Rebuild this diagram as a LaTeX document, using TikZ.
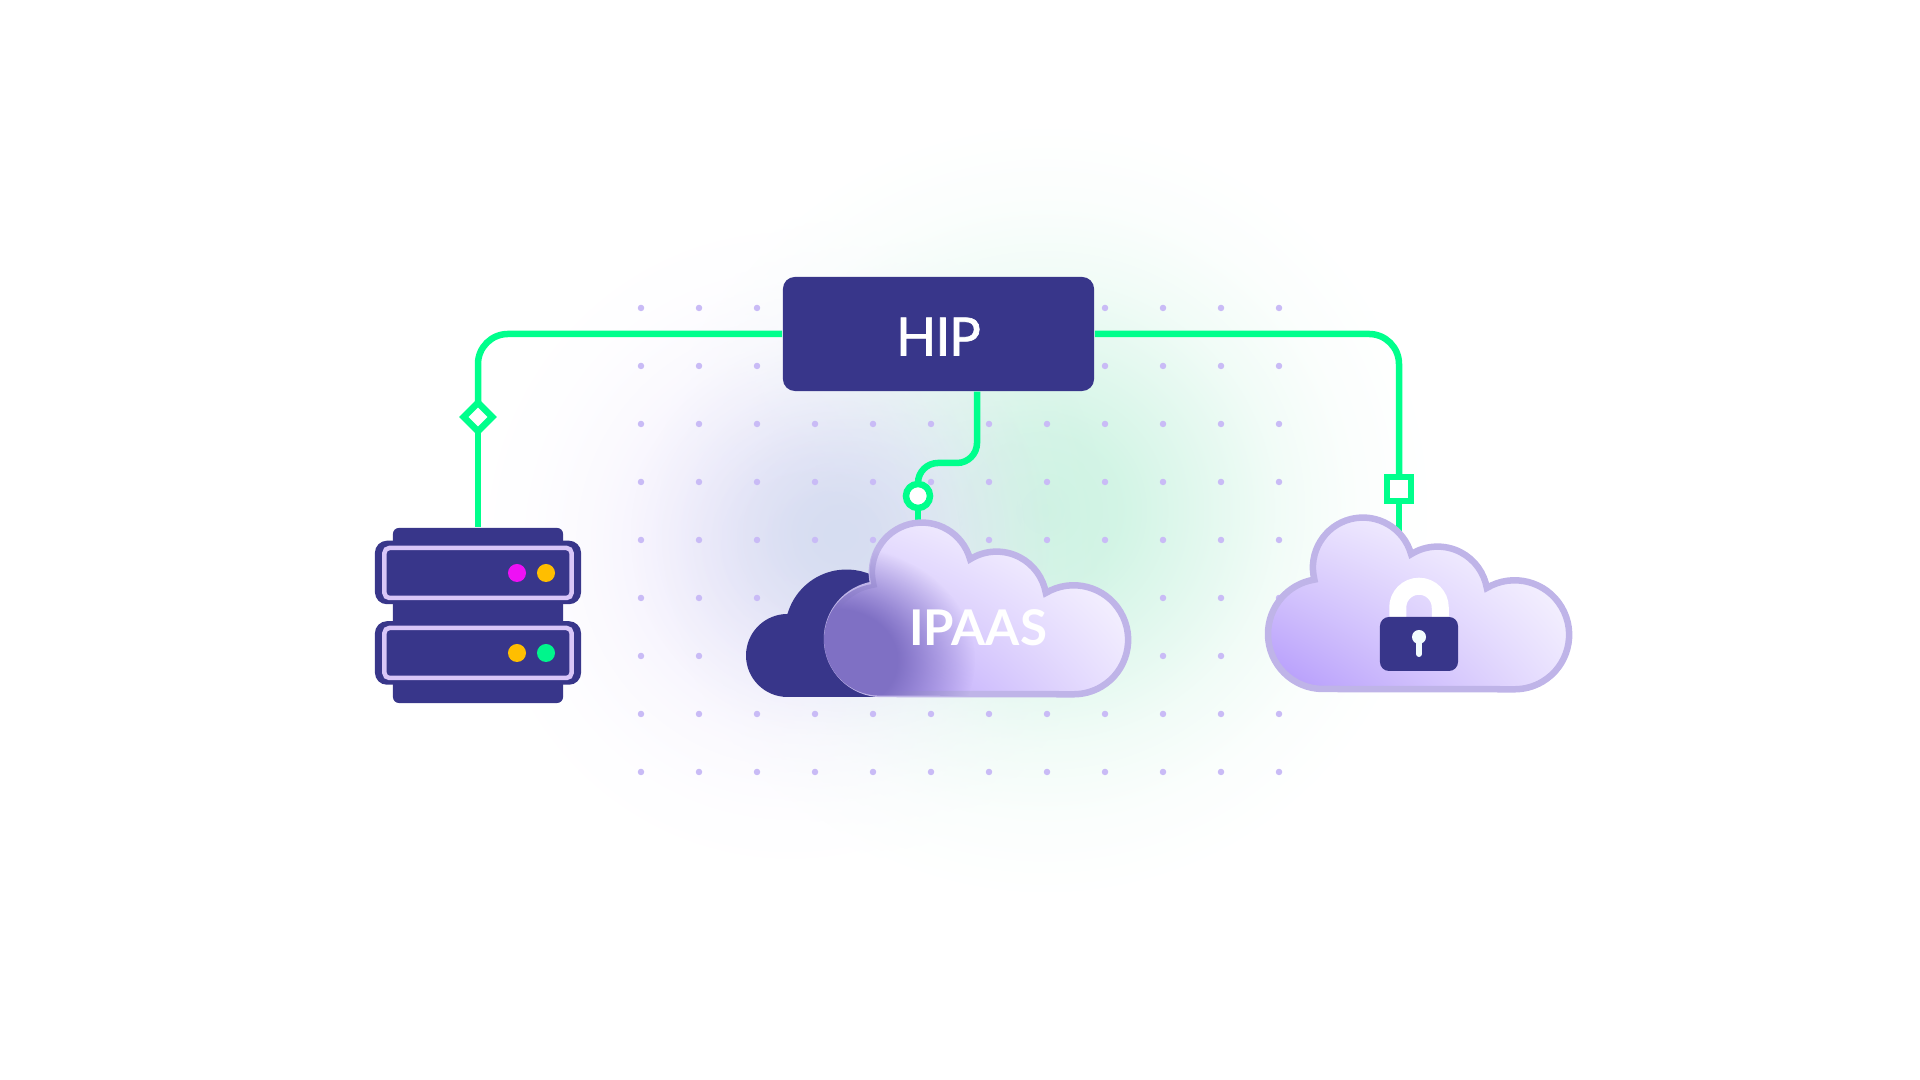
\documentclass[tikz,border=0pt]{standalone}
\usepackage{fontspec}
\setmainfont{Lato}
\newfontfamily\hipfont[FakeBold=1.3,LetterSpace=-2]{Lato}
\usetikzlibrary{positioning,calc,fadings,shadings,shapes.geometric}
\definecolor{navy}{HTML}{38368A}
\definecolor{linkgreen}{HTML}{00FF8C}
\definecolor{dotlilac}{HTML}{C9BBF6}
\definecolor{edgelilac}{HTML}{BFB4E8}
\definecolor{racklilac}{HTML}{D9C6F8}
\definecolor{cloudlow}{HTML}{B297FB}
\definecolor{cloudhaze}{HTML}{7F70C4}
\definecolor{ledpink}{HTML}{EE10F5}
\definecolor{ledamber}{HTML}{FFBE00}
\definecolor{ledgreen}{HTML}{00F58C}
\definecolor{glowgreen}{HTML}{CDF3E2}
\definecolor{glowblue}{HTML}{D6DDF1}
\definecolor{glowlilac}{HTML}{EEE9FC}
\pgfdeclareradialshading{softglowshade}{\pgfpointorigin}{color(0bp)=(white);color(5bp)=(white!88!black);color(10bp)=(white!58!black);color(15bp)=(white!27!black);color(20bp)=(white!8!black);color(25bp)=(black);color(50bp)=(black)}
\pgfdeclarefading{softglow}{\pgfuseshading{softglowshade}}
\pgfdeclareradialshading{softhazeshade}{\pgfpointorigin}{color(0bp)=(white);color(11bp)=(white);color(17bp)=(white!55!black);color(25bp)=(black);color(50bp)=(black)}
\pgfdeclarefading{softhaze}{\pgfuseshading{softhazeshade}}
\newcommand{\cloudoutline}{(882,386) arc[start angle=270,end angle=99,radius=55]
  arc[start angle=194,end angle=15.5,radius=50]
  arc[start angle=122,end angle=10,radius=50]
  arc[start angle=120.7,end angle=-90,radius=54.5] -- cycle}
\begin{document}
\begin{tikzpicture}[
      x=.01cm,y=.01cm,
      hipbox/.style={rectangle,fill=navy,rounded corners=.12cm,inner sep=0pt,text=white,text height=.43cm,
                     minimum width=3.11cm,minimum height=1.14cm,align=center,font=\hipfont\fontsize{15}{18}\selectfont},
      rackbody/.style={rectangle,fill=navy,rounded corners=.12cm,inner sep=0pt,minimum width=2.06cm,minimum height=.635cm},
      rackface/.style={rectangle,draw=racklilac,line width=.045cm,rounded corners=.05cm,inner sep=0pt,minimum width=1.87cm,minimum height=.5cm},
      led/.style={circle,inner sep=0pt,minimum size=.18cm},
      link/.style={draw=linkgreen,line width=.065cm},
      markbox/.style={draw=linkgreen,fill=white,line width=.065cm,inner sep=0pt,outer sep=0pt},
      griddot/.style={circle,fill=dotlilac,inner sep=0pt,minimum size=.065cm},
      cloudedge/.style={draw=edgelilac,line width=.065cm},
      cloudfill/.style={lower left=cloudlow,upper right=white,lower right=cloudlow!25!white,upper left=cloudlow!30!white}
    ]
    \useasboundingbox (0,0) rectangle (1920,1080);

    % Background glow
    \fill[fill=glowgreen,path fading=softglow] (1045,570) ellipse (390 and 390);
    \fill[fill=glowlilac,path fading=softglow] (790,535) ellipse (320 and 330);
    \fill[fill=glowblue,path fading=softglow] (840,545) ellipse (210 and 200);

    % Dot grid
    \foreach \col in {0,...,11} {
      \foreach \row in {0,...,8} {
        \node[griddot] (dot\col-\row) at (641+58*\col,308+58*\row) {};
      }
    }

    % Hub and markers
    \node[hipbox] (hip) at (938.5,746) {HIP};
    \node[markbox,diamond,minimum width=.285cm,minimum height=.285cm,aspect=1] (diamondmark) at (478,663) {};
    \node[markbox,circle,minimum size=.24cm] (circlemark) at (918,584) {};
    \node[markbox,rectangle,minimum size=.24cm] (squaremark) at (1399,591) {};
    \node[rectangle,fill=navy,rounded corners=.06cm,inner sep=0pt,minimum width=1.7cm,minimum height=1.75cm] (server) at (478,464.5) {};
    \coordinate (ipaasbend) at (918,617);
    \coordinate (ipaastop) at (918,555);
    \coordinate (locktop) at (1399,540);

    % Connectors
    \draw[link,rounded corners=.3cm] (hip.west) -| (diamondmark.north);
    \draw[link] (diamondmark.south) -- (server.north);
    \draw[link,rounded corners=.3cm] (hip.east) -| (squaremark.north);
    \draw[link] (squaremark.south) -- (locktop);
    \draw[link,rounded corners=.2cm] ([xshift=.385cm]hip.south) |- (ipaasbend) -- (circlemark.north);
    \draw[link] (circlemark.south) -- (ipaastop);

    % Server
    \node[rackbody] (rackA) at (478,507.5) {};
    \node[rackbody] (rackB) at (478,427) {};
    \node[rackface] (faceA) at (478,507) {};
    \node[rackface] (faceB) at (478,427) {};
    \node[led,fill=ledpink] (ledA) at (517,507) {};
    \node[led,fill=ledamber] (ledB) at (546,507) {};
    \node[led,fill=ledamber] (ledC) at (517,427) {};
    \node[led,fill=ledgreen] (ledD) at (546,427) {};

    % Back cloud
    \fill[navy] (787.5,383) arc[start angle=270,end angle=90,radius=41.5]
      arc[start angle=164,end angle=60,radius=61.4] -- (880,383) -- cycle;

    % IPAAS cloud
    \shade[cloudfill] \cloudoutline;
    \draw[cloudedge] \cloudoutline;
    \begin{scope}
      \path[clip,shift={(976,470)},scale=1.02,shift={(-976,-470)}] \cloudoutline;
      \fill[fill=cloudhaze,path fading=softhaze] (835,420) ellipse (140 and 115);
    \end{scope}
    \node[text=white,font=\fontsize{14}{17}\bfseries\selectfont] (ipaas) at (978,452) {IPAAS};

    % Secure cloud
    \begin{scope}[shift={(441,5)}]
      \shade[cloudfill] \cloudoutline;
      \draw[cloudedge] \cloudoutline;
    \end{scope}

    % Padlock
    \draw[white,line width=.17cm] (1397.75,460) -- (1397.75,472.5) arc[start angle=180,end angle=0,radius=21.25] -- (1440.25,460);
    \node[rectangle,fill=navy,rounded corners=.09cm,inner sep=0pt,minimum width=.78cm,minimum height=.54cm] (lockbody) at (1419,436) {};
    \fill[white!95!cyan] (1419,443) circle (7);
    \draw[white!95!cyan,line width=.06cm,line cap=round] (1419,440) -- (1419,426);
  \end{tikzpicture}
\end{document}
